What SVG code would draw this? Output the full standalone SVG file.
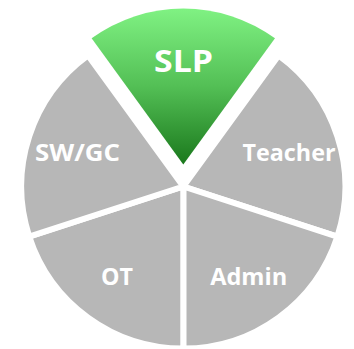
<svg xmlns="http://www.w3.org/2000/svg" width="354" height="349" viewBox="0 0 354 349">
  <defs>
    <linearGradient id="green" gradientUnits="userSpaceOnUse" x1="0" y1="8" x2="0" y2="165">
      <stop offset="0" stop-color="#80f283"/>
      <stop offset="0.5" stop-color="#53bf55"/>
      <stop offset="1" stop-color="#1a781c"/>
    </linearGradient>
  </defs>
  <style>
    .slice { fill: #b7b7b7; stroke: #ffffff; stroke-width: 6; stroke-linejoin: miter; stroke-miterlimit: 10; }
    .label { fill: #ffffff; font-family: "Open Sans", "Liberation Sans", sans-serif; font-weight: 700; font-size: 22.5px; text-anchor: middle; }
  </style>
  <rect width="354" height="349" fill="#ffffff"/>
  <g id="teacher">
    <path class="slice" d="M183.3,186.5 L278.52,55.44 A162,162 0 0 1 337.38,236.56 Z"/>
    <text class="label" x="289" y="160.7" textLength="93" lengthAdjust="spacingAndGlyphs">Teacher</text>
  </g>
  <g id="admin">
    <path class="slice" d="M183.3,186.5 L337.38,236.56 A162,162 0 0 1 183.3,348.5 Z"/>
    <text class="label" x="248.7" y="285" textLength="77" lengthAdjust="spacingAndGlyphs">Admin</text>
  </g>
  <g id="ot">
    <path class="slice" d="M183.3,186.5 L183.3,348.5 A162,162 0 0 1 29.22,236.56 Z"/>
    <text class="label" x="117" y="285" textLength="32" lengthAdjust="spacingAndGlyphs">OT</text>
  </g>
  <g id="swgc">
    <path class="slice" d="M183.3,186.5 L29.22,236.56 A162,162 0 0 1 88.08,55.44 Z"/>
    <text class="label" x="77.5" y="161" textLength="85" lengthAdjust="spacingAndGlyphs">SW/GC</text>
  </g>
  <g id="slp">
    <path fill="url(#green)" d="M183.3,164.5 L91.6,38.29 A156,156 0 0 1 275,38.29 Z"/>
    <text class="label" x="183.5" y="71.5" style="font-size:31px" textLength="59" lengthAdjust="spacingAndGlyphs">SLP</text>
  </g>
</svg>
